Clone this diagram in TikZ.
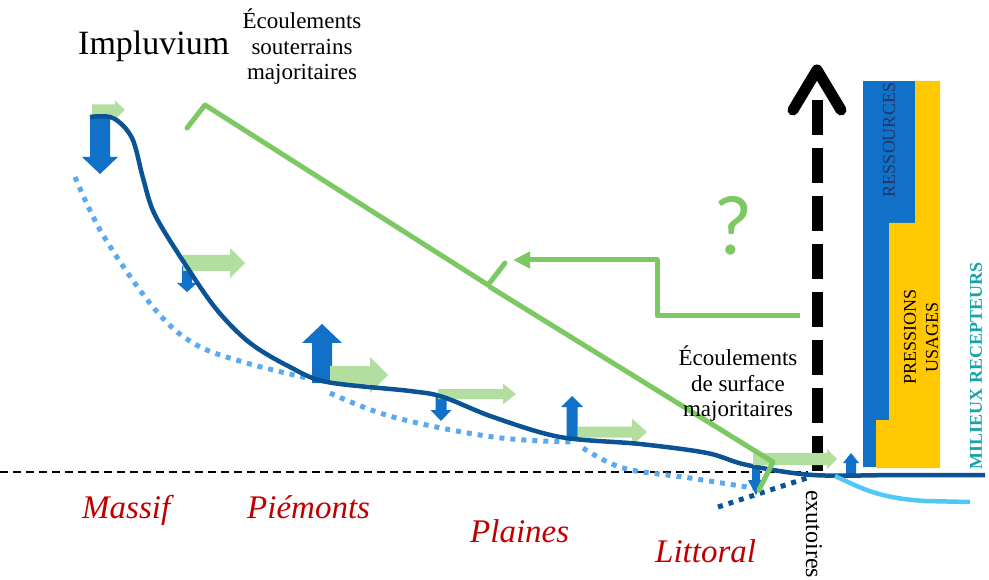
\documentclass[tikz,border=0pt]{standalone}
\usepackage{fontspec}
\setmainfont{Liberation Serif}
\newfontfamily\calib{Carlito}
\usetikzlibrary{arrows.meta}

\definecolor{bleufonce}{HTML}{0B5394}
\definecolor{bleu}{HTML}{1170C8}
\definecolor{bleuclair}{HTML}{5BAAF0}
\definecolor{cyanmer}{HTML}{4FC8F8}
\definecolor{vert}{HTML}{7CC862}
\definecolor{vertclair}{HTML}{B2DFA0}
\definecolor{jaune}{HTML}{FFC800}
\definecolor{sarcelle}{HTML}{17A2A8}
\definecolor{rouge}{HTML}{C00000}
\definecolor{marine}{HTML}{1F3864}

% #1 couleur, #2 x, #3 y base, #4 y base de la pointe, #5 y pointe, #6 demi-corps, #7 demi-pointe
\newcommand{\flecheV}[7]{\fill[#1] ({#2-#6},#3) -- ({#2-#6},#4) -- ({#2-#7},#4) -- (#2,#5) -- ({#2+#7},#4) -- ({#2+#6},#4) -- ({#2+#6},#3) -- cycle;}
% #1 couleur, #2 y, #3 x base, #4 x base de la pointe, #5 x pointe, #6 demi-corps, #7 demi-pointe
\newcommand{\flecheH}[7]{\fill[#1] (#3,{#2-#6}) -- (#4,{#2-#6}) -- (#4,{#2-#7}) -- (#5,#2) -- (#4,{#2+#7}) -- (#4,{#2+#6}) -- (#3,{#2+#6}) -- cycle;}

\begin{document}
\begin{tikzpicture}[x=1pt, y=-1pt,
  nappe/.style={color=bleuclair, line width=5pt, dash pattern=on 5pt off 6pt},
  riviere/.style={color=bleufonce, line width=4.5pt},
  trait/.style={color=vert, line width=5pt, line cap=round, line join=round},
  zone/.style={font=\fontsize{33}{38}\selectfont\itshape, text=rouge, inner sep=0pt},
  legende/.style={font=\fontsize{23}{25.5}\selectfont, align=center, inner sep=0pt},
  bandeau/.style={font=\fontsize{18}{22}\selectfont, rotate=90, align=center, inner sep=0pt}]

\useasboundingbox (0,0) rectangle (989,580);

\draw [line width=2pt, dash pattern=on 8pt off 5pt] (0,472) -- (808,472);

\draw [nappe] plot [smooth, tension=0.6] coordinates {(75,177) (103,235) (153,307) (193,343) (243,362) (307,378)};
\draw [nappe] plot [smooth, tension=0.6] coordinates {(330,393) (393,417) (493,437) (573,442)};
\draw [nappe] plot [smooth, tension=0.6] coordinates {(583,448) (623,468) (690,478) (753,488)};
\draw [color=bleufonce, line width=5pt, dash pattern=on 5pt off 6pt] (718,507) -- (810,477);

\flecheV{bleu}{100}{117}{157}{174}{10}{18}
\flecheV{bleu}{187}{266}{283}{292}{5}{10}
\flecheV{bleu}{322}{383}{343}{324}{10}{20}
\flecheV{bleu}{441}{396}{410}{421}{5.5}{10.5}
\flecheV{bleu}{572}{440}{407}{396}{5.5}{11}
\flecheV{bleu}{756}{468}{480}{495}{4}{8}
\flecheV{bleu}{851}{476}{463}{453}{5}{8}

\flecheH{vertclair}{110}{92}{115}{125}{5.5}{9.5}
\flecheH{vertclair}{263}{183}{230}{245}{8}{15}
\flecheH{vertclair}{375}{330}{370}{388}{9}{18}
\flecheH{vertclair}{394}{438}{503}{516}{5}{10.5}
\flecheH{vertclair}{432}{578}{632}{647}{5.5}{13.5}

\draw [riviere] plot [smooth, tension=0.55] coordinates {(90,117) (113,118) (132,138) (143,178) (155,215) (187,267) (217,310) (250,343) (290,367) (327,382) (410,391) (443,397) (493,417) (560,437) (640,444) (707,453) (747,465) (813,475) (900,475) (985,475)};
\draw [color=cyanmer, line width=4.5pt] (835,476) .. controls (865,490) and (880,498) .. (925,501) -- (970,502);

\fill [bleu] (863,81) rectangle (915,467);
\fill [jaune] (915,81) -- (940,81) -- (940,468) -- (876,468) -- (876,420) -- (889,420) -- (889,223) -- (915,223) -- cycle;

\draw [line width=11pt, dash pattern=on 35pt off 13pt] (817,100) -- (817,472);
\draw [line width=11pt, line cap=round, line join=round] (793,110) -- (817,70) -- (841,110);
\flecheH{vertclair}{459}{753}{827}{837}{6}{10}

\draw [trait] (187,128) -- (205,105) -- (488,285) -- (505,263);
\draw [trait] (490,287) -- (773,462) -- (759,490);
\draw [trait, line cap=butt, -{Triangle[length=17pt, width=16pt]}] (800,316) -- (657,316) -- (657,260) -- (513,260);

\node [font=\fontsize{34}{40}\selectfont, anchor=base west, inner sep=0pt] (impluvium) at (78,55) {Impluvium};
\node [legende, anchor=north] (souterrain) at (302,9) {Écoulements\\souterrains\\majoritaires};
\node [legende, anchor=north] (surface) at (738,346) {Écoulements\\de surface\\majoritaires};
\node [font=\calib\fontsize{85}{90}\selectfont, text=vert] (question) at (733,226) {?};

\node [zone, anchor=base west] (massif) at (82,518) {Massif};
\node [zone, anchor=base west] (piemonts) at (247,518) {Piémonts};
\node [zone, anchor=base west] (plaines) at (470,542) {Plaines};
\node [zone, anchor=base west] (littoral) at (655,562) {Littoral};

\node [font=\fontsize{24}{28}\selectfont, rotate=-90, anchor=base west, inner sep=0pt] (exutoires) at (806,490) {exutoires};
\node [bandeau, text=marine] (ressources) at (889,140) {RESSOURCES};
\node [bandeau] (pressions) at (921,337) {PRESSIONS\\USAGES};
\node [bandeau, font=\fontsize{18}{22}\selectfont\bfseries, text=sarcelle] (milieux) at (976,366) {MILIEUX RECEPTEURS};
\end{tikzpicture}
\end{document}
